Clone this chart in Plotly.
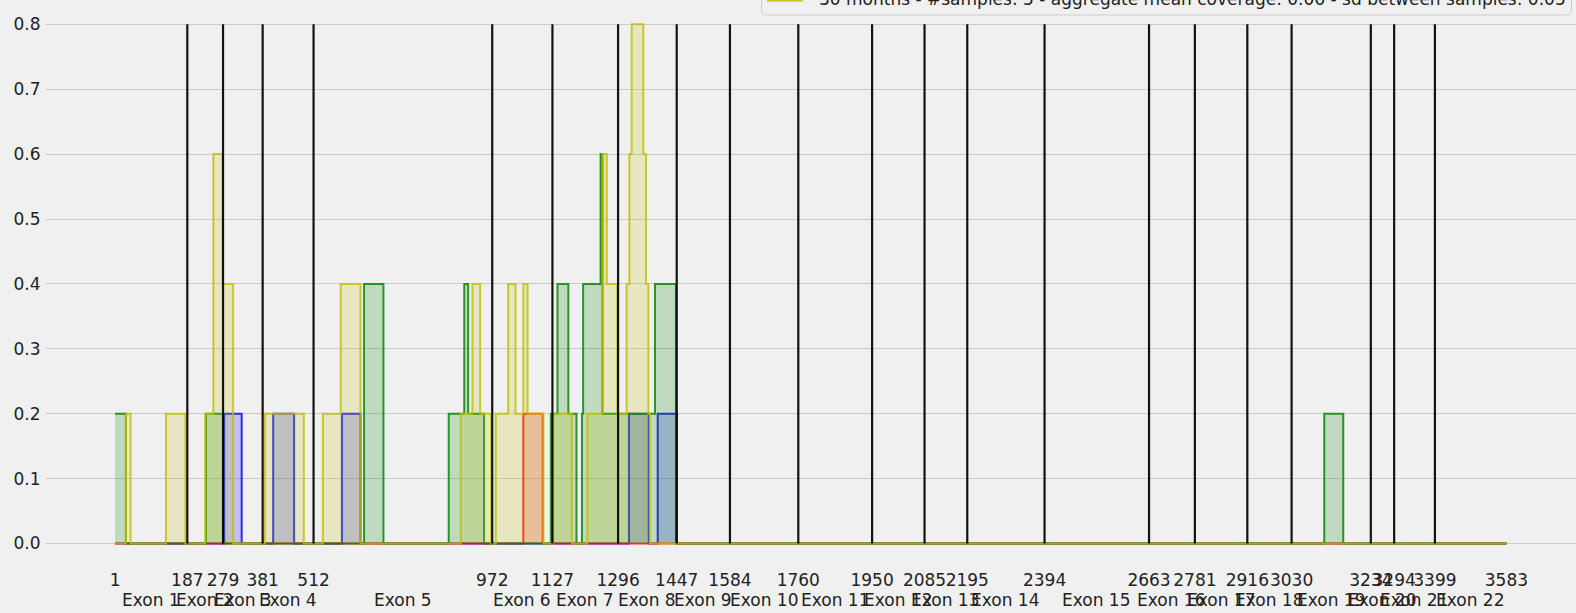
import plotly.graph_objects as go

# ---------------- data ----------------
boundaries = [1, 187, 279, 381, 512, 972, 1127, 1296, 1447, 1584, 1760, 1950, 2085,
              2195, 2394, 2663, 2781, 2916, 3030, 3234, 3294, 3399, 3583]
exon_names = [f"Exon {i}" for i in range(1, 23)]
y_ticks = [0.0, 0.1, 0.2, 0.3, 0.4, 0.5, 0.6, 0.7, 0.8]
vline_top = 0.8

blue_x = [1, 282, 327, 408, 462, 585, 633, 1324, 1375, 1398, 1447, 3583]
blue_y = [0, 0.2, 0, 0.2, 0, 0.2, 0, 0.2, 0, 0.2, 0, 0]

red_x = [1, 1052, 1102, 3583]
red_y = [0, 0.2, 0, 0]

green_x = [1, 29, 235, 279, 642, 692, 860, 900, 910, 951, 1123, 1140, 1168, 1189,
           1203, 1206, 1251, 1256, 1391, 1445, 3114, 3163, 3583]
green_y = [0.2, 0, 0.2, 0, 0.4, 0, 0.2, 0.4, 0.2, 0, 0.2, 0.4, 0.2, 0,
           0.2, 0.4, 0.6, 0.2, 0.4, 0, 0.2, 0, 0]

yellow_x = [1, 29, 41, 132, 182, 233, 254, 278, 305, 387, 487, 536, 582, 633,
            891, 921, 941, 969, 981, 1013, 1032, 1052, 1063, 1104, 1129, 1177,
            1217, 1256, 1267, 1294, 1318, 1325, 1331, 1361, 1368, 1374, 1378, 3583]
yellow_y = [0, 0.2, 0, 0.2, 0, 0.2, 0.6, 0.4, 0, 0.2, 0, 0.2, 0.4, 0,
            0.2, 0.4, 0.2, 0, 0.2, 0.4, 0.2, 0.4, 0.2, 0, 0.2, 0,
            0.2, 0.6, 0.4, 0.2, 0.4, 0.6, 0.8, 0.6, 0.4, 0.2, 0, 0]

legend_label = "30 months - #samples: 5 - aggregate mean coverage: 0.06 - sd between samples: 0.05"

series = [
    ("12 months", blue_x, blue_y, (0, 0, 255)),
    ("18 months", red_x, red_y, (255, 0, 0)),
    ("24 months", green_x, green_y, (0, 128, 0)),
    ("30 months", yellow_x, yellow_y, (191, 191, 0)),
]

# ---------------- layout geometry ----------------
W, H = 1576, 613
L, R, T, B = 46, 0, 0, 44
PW, PH = W - L - R, H - T - B
x_range = [-176.8, 3762.2]
y_range = [-0.03929, 0.83744]


def paper_x(px):
    return (px - L) / PW


def paper_y(py):
    return 1 - (py - T) / PH


FONT = "DejaVu Sans"
TXT = "#222222"
FS = 17

fig = go.Figure()

for name, xs, ys, (r, g, b) in series:
    fig.add_trace(go.Scatter(
        x=xs, y=ys, mode="lines", line_shape="hv", name=name,
        line=dict(color=f"rgba({r},{g},{b},0.8)", width=2),
        fill="tozeroy", fillcolor=f"rgba({r},{g},{b},0.2)",
        showlegend=False, hoverinfo="skip",
    ))

vx, vy = [], []
for bx in boundaries[1:-1]:
    vx += [bx, bx, None]
    vy += [0, vline_top, None]
fig.add_trace(go.Scatter(x=vx, y=vy, mode="lines",
                         line=dict(color="rgba(0,0,0,0.92)", width=2.2),
                         showlegend=False, hoverinfo="skip"))

annotations = []
for i, name in enumerate(exon_names):
    mid = (boundaries[i] + boundaries[i + 1]) / 2
    annotations.append(dict(x=mid, y=paper_y(600), xref="x", yref="paper",
                            text=name, showarrow=False, xanchor="center",
                            yanchor="middle",
                            font=dict(family=FONT, size=FS, color=TXT)))

# partially visible legend (cut at the top of the image)
box_l, box_r, box_b, box_t = 761.5, 1571.5, 15, -60
rad = 4
shapes = [
    dict(type="path", xref="paper", yref="paper",
         path=(f"M {paper_x(box_l)},{paper_y(box_t)} "
               f"L {paper_x(box_l)},{paper_y(box_b - rad)} "
               f"Q {paper_x(box_l)},{paper_y(box_b)} {paper_x(box_l + rad)},{paper_y(box_b)} "
               f"L {paper_x(box_r - rad)},{paper_y(box_b)} "
               f"Q {paper_x(box_r)},{paper_y(box_b)} {paper_x(box_r)},{paper_y(box_b - rad)} "
               f"L {paper_x(box_r)},{paper_y(box_t)} Z"),
         fillcolor="rgba(240,240,240,0.8)", line=dict(color="#cfcfcf", width=1)),
    dict(type="rect", xref="paper", yref="paper",
         x0=paper_x(768), x1=paper_x(802), y0=paper_y(0.8), y1=paper_y(-20),
         fillcolor="rgba(191,191,0,0.2)", line=dict(color="rgba(191,191,0,0.8)", width=2)),
]
annotations.append(dict(x=paper_x(816.5), y=paper_y(-1), xref="paper", yref="paper",
                        text=legend_label, showarrow=False, xanchor="left",
                        yanchor="middle",
                        font=dict(family=FONT, size=17, color=TXT)))

fig.update_layout(
    width=W, height=H,
    margin=dict(l=L, r=R, t=T, b=B, autoexpand=False),
    paper_bgcolor="#f0f0f0", plot_bgcolor="#f0f0f0",
    font=dict(family=FONT, size=FS, color=TXT),
    showlegend=False,
    shapes=shapes, annotations=annotations,
    xaxis=dict(range=x_range, tickvals=boundaries,
               ticktext=[str(v) for v in boundaries], tickangle=0,
               showgrid=False, zeroline=False, showline=False,
               ticks="", ticklabelstandoff=-1,
               tickfont=dict(family=FONT, size=FS, color=TXT)),
    yaxis=dict(range=y_range, tickvals=y_ticks, tickformat=".1f",
               showgrid=True, gridcolor="#cbcbcb", gridwidth=1,
               zeroline=False, showline=False,
               ticks="outside", ticklen=1, tickcolor="rgba(0,0,0,0)",
               tickfont=dict(family=FONT, size=FS, color=TXT)),
)

fig.write_html("out.html", config={"displayModeBar": False},
               post_script="document.body.style.margin='0';document.body.style.overflow='hidden';")
